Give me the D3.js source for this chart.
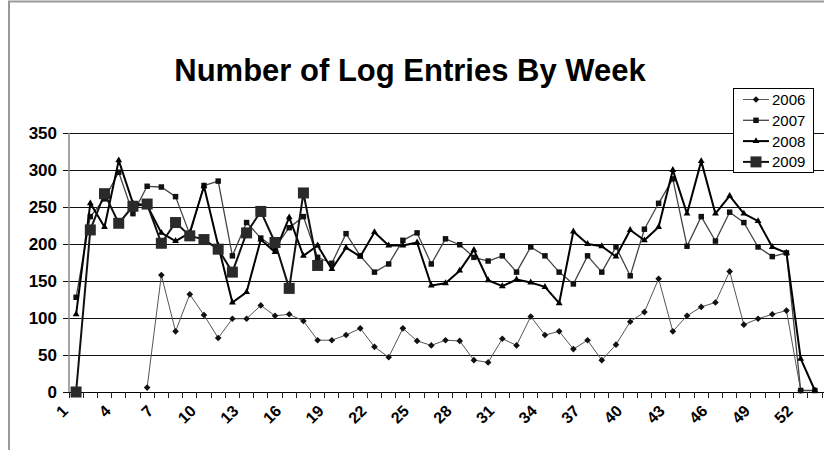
<!DOCTYPE html>
<html>
<head>
<meta charset="utf-8">
<script src="https://cdn.jsdelivr.net/npm/d3@7"></script>
<style>
  body { margin: 0; background: #fff; }
  svg { display: block; font-family: Arial, "Liberation Sans", sans-serif; }
</style>
</head>
<body>
<div id="chart"></div>
<script>
// weeks of the year (categories)
const weeks = d3.range(1, 54);
const weekLabels = weeks.filter(w => (w - 1) % 3 === 0);
const yTicks = [0, 50, 100, 150, 200, 250, 300, 350];
const seriesNames = ['2006', '2007', '2008', '2009'];

// values, one per week (null = no data)
const v2006 = [null, null, null, null, null, 6, 158, 82, 132, 104,
  73, 99, 99, 117, 103, 105, 96, 70, 70, 77,
  86, 61, 47, 86, 69, 63, 70, 69, 43, 40,
  72, 63, 102, 77, 82, 58, 70, 43, 64, 95,
  108, 153, 82, 103, 115, 121, 163, 91, 99, 105,
  110, 2, null];
const v2007 = [128, 237, 261, 297, 241, 278, 277, 264, 213, 279,
  285, 184, 229, 208, 195, 222, 237, 182, 174, 214,
  184, 162, 173, 205, 215, 173, 207, 199, 182, 177,
  184, 162, 196, 184, 162, 146, 184, 162, 196, 157,
  220, 255, 288, 197, 237, 204, 243, 229, 196, 183,
  188, 2, 2];
const v2008 = [105, 255, 223, 313, 255, 252, 215, 204, 215, 278,
  198, 121, 135, 206, 189, 236, 184, 198, 166, 195,
  183, 216, 198, 198, 202, 144, 147, 164, 192, 151,
  143, 152, 148, 142, 120, 217, 200, 197, 183, 219,
  205, 223, 300, 241, 312, 241, 265, 241, 231, 196,
  188, 45, 2];
const v2009 = [0, 219, 268, 228, 251, 254, 201, 229, 211, 206,
  193, 162, 215, 244, 202, 140, 269, 171];

const seriesValues = [v2006, v2007, v2008, v2009];

const width = 824;
const height = 450;
const plot = { left: 69, right: 822, top: 133, bottom: 392 };

const styles = {
  '2006': { stroke: '#555', width: 1, symbol: d3.symbolSquare, size: 22, rotate: 45, fill: '#111' },
  '2007': { stroke: '#444', width: 1.3, symbol: d3.symbolSquare, size: 30, rotate: 0, fill: '#111' },
  '2008': { stroke: '#000', width: 2, symbol: d3.symbolTriangle, size: 20, rotate: 0, fill: '#000' },
  '2009': { stroke: '#111', width: 2, symbol: d3.symbolSquare, size: 121, rotate: 0, fill: '#2a2a2a' }
};

const svg = d3.select('#chart')
  .append('svg')
  .attr('width', width)
  .attr('height', height);

// chart area border (cropped at right/bottom)
svg.append('path')
  .attr('d', 'M9,450 V1.5 H824')
  .attr('fill', 'none')
  .attr('stroke', '#999')
  .attr('stroke-width', 2);

svg.append('text')
  .attr('x', 410)
  .attr('y', 81)
  .attr('text-anchor', 'middle')
  .style('font-size', '31px')
  .style('font-weight', 'bold')
  .attr('fill', '#000')
  .text('Number of Log Entries By Week');

const x = d3.scaleBand()
  .domain(weeks)
  .range([plot.left, plot.right])
  .paddingInner(0)
  .paddingOuter(0);

const y = d3.scaleLinear()
  .domain([0, 350])
  .range([plot.bottom, plot.top]);

const cx = w => x(w) + x.bandwidth() / 2;

// y axis with gridlines
const yAxis = svg.append('g')
  .attr('transform', `translate(${plot.left},0)`)
  .call(d3.axisLeft(y)
    .tickValues(yTicks)
    .tickSize(-(plot.right - plot.left))
    .tickSizeOuter(0)
    .tickPadding(12));
yAxis.select('.domain').remove();
yAxis.selectAll('.tick line')
  .attr('x1', -6)
  .attr('x2', width - plot.left)
  .attr('stroke', '#111')
  .attr('stroke-width', 1)
  .attr('shape-rendering', 'crispEdges');
yAxis.selectAll('.tick text')
  .style('font-size', '17px')
  .style('font-weight', 'bold')
  .attr('fill', '#000');

svg.append('line')
  .attr('x1', plot.left).attr('x2', plot.left)
  .attr('y1', plot.top).attr('y2', plot.bottom)
  .attr('stroke', '#888')
  .attr('stroke-width', 1.5);

// x axis: tick marks between categories, rotated labels every 3rd week
const xAxis = svg.append('g')
  .attr('transform', `translate(0,${plot.bottom})`);
xAxis.append('line')
  .attr('x1', plot.left).attr('x2', plot.right)
  .attr('stroke', '#000')
  .attr('shape-rendering', 'crispEdges');
xAxis.selectAll('line.tk')
  .data(weeks.concat([null]))
  .enter()
  .append('line')
  .attr('class', 'tk')
  .attr('x1', d => d === null ? plot.right : x(d))
  .attr('x2', d => d === null ? plot.right : x(d))
  .attr('y1', 0)
  .attr('y2', 6)
  .attr('stroke', '#222')
  .attr('shape-rendering', 'crispEdges');
xAxis.selectAll('text')
  .data(weekLabels)
  .enter()
  .append('text')
  .attr('transform', d => `translate(${cx(d) - 7},20) rotate(-45)`)
  .attr('text-anchor', 'end')
  .style('font-size', '16px')
  .style('font-weight', 'bold')
  .attr('fill', '#000')
  .text(d => d);

// series lines and markers
const line = d3.line()
  .defined(d => d.v != null)
  .x(d => cx(d.w))
  .y(d => y(d.v));

seriesNames.forEach((name, i) => {
  const st = styles[name];
  const pts = seriesValues[i].map((v, j) => ({ w: weeks[j], v }));
  const g = svg.append('g');
  g.append('path')
    .datum(pts)
    .attr('d', line)
    .attr('fill', 'none')
    .attr('stroke', st.stroke)
    .attr('stroke-width', st.width)
    .attr('stroke-linejoin', 'round');
  g.selectAll('path.m')
    .data(pts.filter(d => d.v != null))
    .enter()
    .append('path')
    .attr('class', 'm')
    .attr('d', d3.symbol().type(st.symbol).size(st.size))
    .attr('transform', d => `translate(${cx(d.w)},${y(d.v)}) rotate(${st.rotate})`)
    .attr('fill', st.fill);
});

// legend
const legend = svg.append('g');
legend.append('rect')
  .attr('x', 733.5).attr('y', 88.5)
  .attr('width', 80).attr('height', 84)
  .attr('fill', '#fff')
  .attr('stroke', '#000');
seriesNames.forEach((name, i) => {
  const st = styles[name];
  const ly = 99.5 + i * 20.8;
  legend.append('line')
    .attr('x1', 743).attr('x2', 769)
    .attr('y1', ly).attr('y2', ly)
    .attr('stroke', st.stroke)
    .attr('stroke-width', st.width);
  legend.append('path')
    .attr('d', d3.symbol().type(st.symbol).size(st.size))
    .attr('transform', `translate(756,${ly}) rotate(${st.rotate})`)
    .attr('fill', st.fill);
  legend.append('text')
    .attr('x', 772)
    .attr('y', ly)
    .attr('dy', '0.36em')
    .style('font-size', '15px')
    .attr('fill', '#000')
    .text(name);
});
</script>
</body>
</html>
